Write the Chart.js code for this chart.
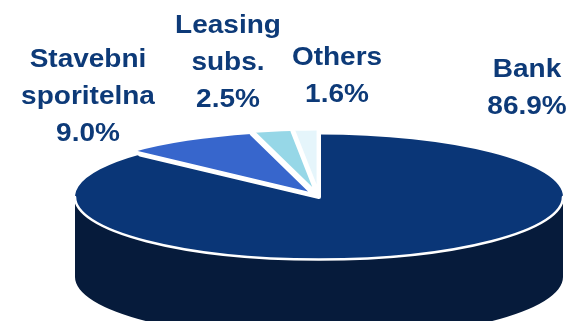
<!DOCTYPE html>
<html>
<head>
<meta charset="utf-8">
<script src="https://cdn.jsdelivr.net/npm/chart.js@4.4.1/dist/chart.umd.min.js"></script>
<style>
  html, body { margin: 0; padding: 0; background: #fff; }
  #wrap { width: 567px; height: 321px; }
</style>
</head>
<body>
<div id="wrap"><canvas id="pieChart" width="567" height="321"></canvas></div>
<script>
const categories = ['Bank', 'Stavebni sporitelna', 'Leasing subs.', 'Others'];
const shares = [86.9, 9.0, 2.5, 1.6];
const sliceColors = ['#0a3677', '#3766cc', '#96d7e7', '#e5f5fb'];
const sliceOffsets = [0, 20, 20, 20];

// tilted disc placement on the page
const disc = { x: 319, y: 197, rx: 244, ry: 62.5, depth: 80 };
const sideColor = '#061b3b';
const textColor = '#0d3a78';
// label anchors: centre x, baseline of the first line
const labelSpots = [[527, 77], [88, 67], [228, 33], [337, 65]];
const lineGap = 37;
const textStretch = 1.12;

function tiltOf(chart) {
  const arcs = chart.getDatasetMeta(0).data;
  const R = arcs[0].outerRadius;
  return { arcs, cx: arcs[0].x, cy: arcs[0].y, kx: disc.rx / R, ky: disc.ry / R };
}

function arcGeometry(arc) {
  const off = (arc.options.offset || 0) / 4;
  const half = (arc.startAngle + arc.endAngle) / 2;
  return {
    sx: Math.cos(half) * off,
    sy: Math.sin(half) * off,
    r: arc.outerRadius + off * (1 - Math.sin(Math.min(Math.PI, arc.circumference)))
  };
}

const tiltPlugin = {
  id: 'tilt',
  beforeDatasetsDraw(chart) {
    const ctx = chart.ctx;
    const t = tiltOf(chart);

    // side wall, only the front half of the disc shows
    ctx.save();
    ctx.fillStyle = sideColor;
    t.arcs.forEach(arc => {
      const g = arcGeometry(arc);
      const ox = disc.x + g.sx * t.kx, oy = disc.y + g.sy * t.ky;
      const rx = g.r * t.kx, ry = g.r * t.ky;
      for (let k = -1; k <= 1; k++) {
        const lo = Math.max(arc.startAngle, 2 * Math.PI * k);
        const hi = Math.min(arc.endAngle, 2 * Math.PI * k + Math.PI);
        if (hi <= lo) continue;
        ctx.beginPath();
        ctx.ellipse(ox, oy, rx, ry, 0, lo, hi);
        ctx.ellipse(ox, oy + disc.depth, rx, ry, 0, hi, lo, true);
        ctx.closePath();
        ctx.fill();
      }
    });
    ctx.restore();

    // squash the pie top into an ellipse
    ctx.save();
    ctx.translate(disc.x, disc.y);
    ctx.scale(t.kx, t.ky);
    ctx.translate(-t.cx, -t.cy);
  },
  afterDatasetsDraw(chart) {
    const ctx = chart.ctx;
    ctx.restore();
    const t = tiltOf(chart);
    const pt = (a, r, g) => [
      disc.x + (Math.cos(a) * r + g.sx) * t.kx,
      disc.y + (Math.sin(a) * r + g.sy) * t.ky
    ];

    ctx.save();
    ctx.strokeStyle = '#ffffff';
    ctx.lineCap = 'round';
    ctx.lineJoin = 'round';

    // white rim between top and side
    ctx.lineWidth = 2.5;
    ctx.beginPath();
    ctx.ellipse(disc.x, disc.y, disc.rx, disc.ry, 0, 0, Math.PI);
    ctx.stroke();

    // white gaps along slice edges
    ctx.lineWidth = 4;
    t.arcs.forEach(arc => {
      const g = arcGeometry(arc);
      const c = pt(0, 0, g);
      const a = pt(arc.startAngle, g.r, g);
      const b = pt(arc.endAngle, g.r, g);
      ctx.beginPath();
      ctx.moveTo(a[0], a[1]);
      ctx.lineTo(c[0], c[1]);
      ctx.lineTo(b[0], b[1]);
      ctx.stroke();
    });
    ctx.restore();
  },
  afterDraw(chart) {
    const ctx = chart.ctx;
    ctx.save();
    ctx.font = 'bold 25px "Liberation Sans", Arial, sans-serif';
    ctx.fillStyle = textColor;
    ctx.textAlign = 'center';
    ctx.textBaseline = 'alphabetic';
    categories.forEach((name, i) => {
      const lines = name.split(' ').concat(shares[i].toFixed(1) + '%');
      const [x, y] = labelSpots[i];
      lines.forEach((line, j) => {
        ctx.save();
        ctx.translate(x, y + j * lineGap);
        ctx.scale(textStretch, 1);
        ctx.fillText(line, 0, 0);
        ctx.restore();
      });
    });
    ctx.restore();
  }
};

new Chart(document.getElementById('pieChart'), {
  type: 'pie',
  data: {
    labels: categories,
    datasets: [{
      data: shares,
      backgroundColor: sliceColors,
      borderWidth: 0,
      offset: sliceOffsets
    }]
  },
  options: {
    responsive: false,
    animation: false,
    layout: { padding: 0 },
    plugins: {
      legend: { display: false },
      tooltip: { enabled: false }
    }
  },
  plugins: [tiltPlugin]
});
</script>
</body>
</html>
